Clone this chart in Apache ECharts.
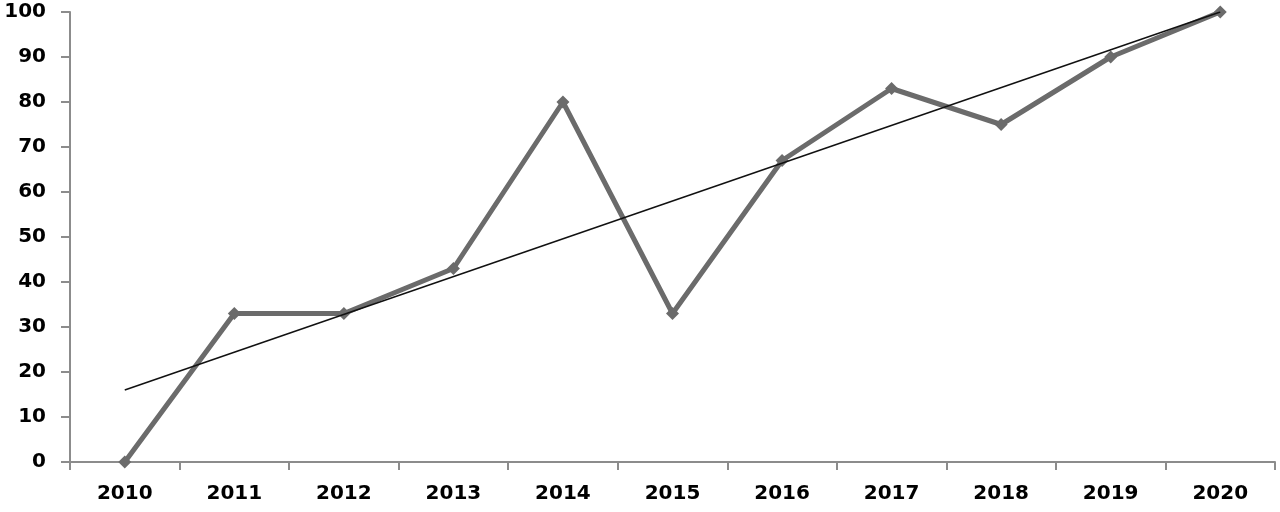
<!DOCTYPE html>
<html>
<head>
<meta charset="utf-8">
<script src="https://cdn.jsdelivr.net/npm/echarts@6/dist/echarts.min.js"></script>
<style>
  html, body { margin: 0; padding: 0; background: #fff; }
  #chart { width: 1280px; height: 512px; }
</style>
</head>
<body>
<div id="chart"></div>
<script>
const years = ['2010', '2011', '2012', '2013', '2014', '2015', '2016', '2017', '2018', '2019', '2020']
const values = [0, 33, 33, 43, 80, 33, 67, 83, 75, 90, 100]
// trend line: only the two ends are drawn
const trend = [16, null, null, null, null, null, null, null, null, null, 100]

const chart = echarts.init(document.getElementById('chart'))
const labelStyle = {
  color: '#000',
  fontFamily: 'DejaVu Sans',
  fontWeight: 'bold',
  fontSize: 20
}
chart.setOption({
  animation: false,
  grid: { left: 70, right: 5, top: 12, bottom: 50 },
  xAxis: {
    type: 'category',
    data: years,
    boundaryGap: true,
    axisLine: { lineStyle: { color: '#8c8c8c', width: 2 } },
    axisTick: { show: true, length: 8, lineStyle: { color: '#8c8c8c', width: 2 } },
    axisLabel: Object.assign({ margin: 22 }, labelStyle),
    splitLine: { show: false }
  },
  yAxis: {
    type: 'value',
    min: 0,
    max: 100,
    interval: 10,
    axisLine: { show: true, lineStyle: { color: '#8c8c8c', width: 2 } },
    axisTick: { show: true, length: 9, lineStyle: { color: '#8c8c8c', width: 2 } },
    axisLabel: Object.assign({ margin: 24 }, labelStyle),
    splitLine: { show: false }
  },
  series: [
    {
      type: 'line',
      data: values,
      symbol: 'diamond',
      symbolSize: 13,
      lineStyle: { color: '#6b6b6b', width: 5 },
      itemStyle: { color: '#6b6b6b' },
      z: 2
    },
    {
      type: 'line',
      data: trend,
      connectNulls: true,
      symbol: 'none',
      lineStyle: { color: '#111', width: 1.5 },
      z: 3
    }
  ]
})
</script>
</body>
</html>
